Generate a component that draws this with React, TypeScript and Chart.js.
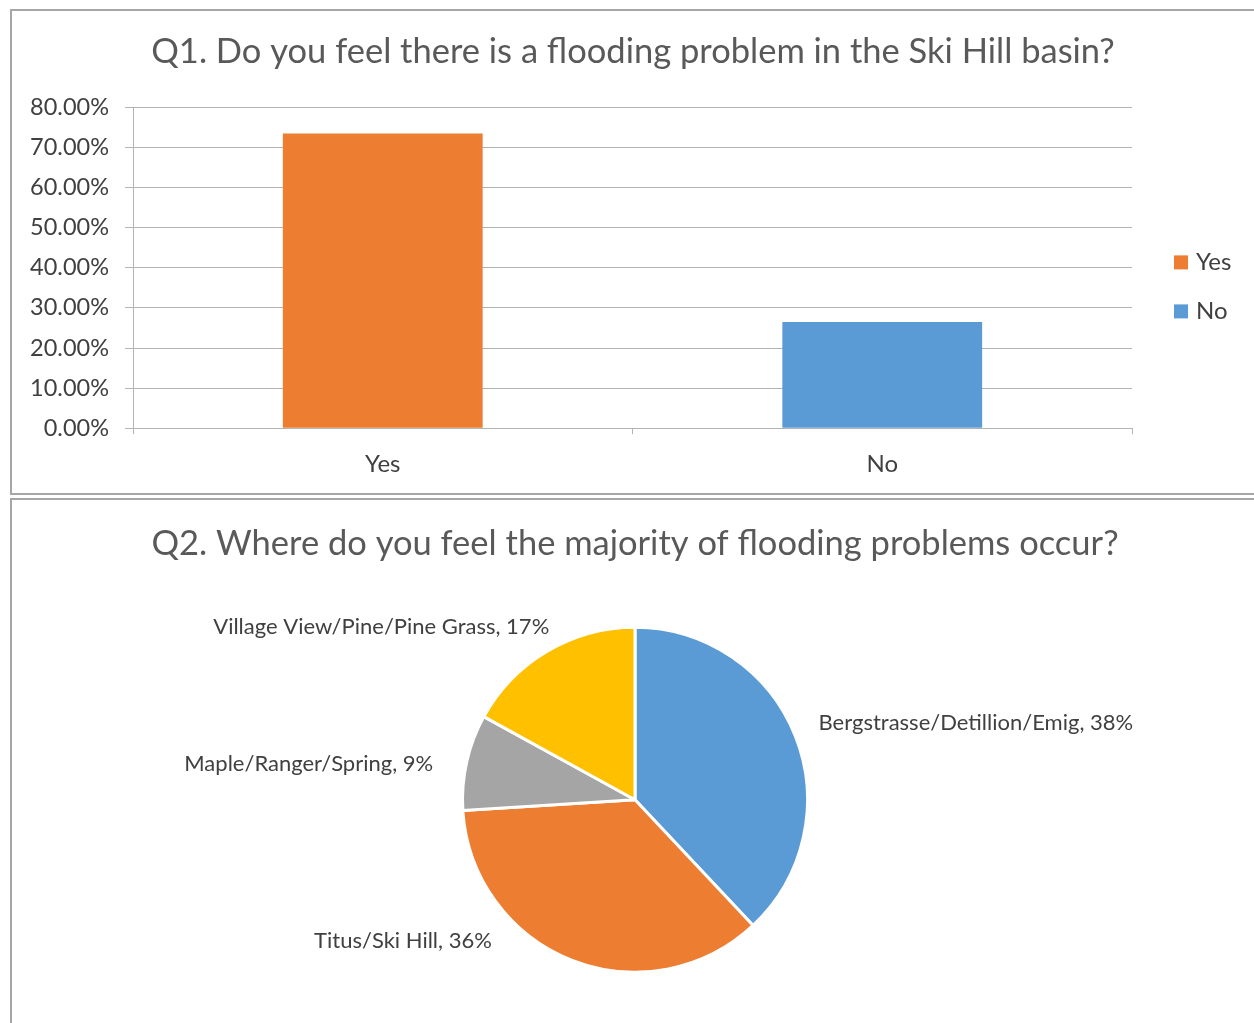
import React, { useEffect, useRef } from "react";
import { Chart, registerables } from "chart.js";

Chart.register(...registerables);

// ---------- Data ----------
const q1Title = "Q1. Do you feel there is a flooding problem in the Ski Hill basin?";
const q1Categories = ["Yes", "No"];
const q1Values = [73.5, 26.5];
const q1Colors = ["#ED7D31", "#5B9BD5"];
const q1AxisMax = 80;
const q1AxisStep = 10;

const q2Title = "Q2. Where do you feel the majority of flooding problems occur?";
const q2Categories = [
  "Bergstrasse/Detillion/Emig",
  "Titus/Ski Hill",
  "Maple/Ranger/Spring",
  "Village View/Pine/Pine Grass",
];
const q2Values = [38, 36, 9, 17];
const q2Colors = ["#5B9BD5", "#ED7D31", "#A5A5A5", "#FFC000"];

// label placement (multiples of pie radius from the centre), style only
const q2LabelPlacement = [
  { fx: 1.064, fy: -0.444, align: "left" },
  { fx: -0.83, fy: 0.819, align: "right" },
  { fx: -1.17, fy: -0.205, align: "right" },
  { fx: -0.497, fy: -1.0, align: "right" },
];

const FONT = "Lato, 'Open Sans', sans-serif";
const TEXT = "#404040";
const TITLE = "#595959";
const GRID = "#b3b3b3";

const barLegendPlugin = {
  id: "barLegend",
  afterDraw(chart: any) {
    const { ctx, chartArea } = chart;
    const ds = chart.data.datasets[0];
    ctx.save();
    ctx.font = `24px ${FONT}`;
    ctx.textBaseline = "middle";
    ctx.textAlign = "left";
    chart.data.labels.forEach((lab: string, i: number) => {
      const x = chartArea.right + 42;
      const y = chartArea.top + 155 + i * 49;
      ctx.fillStyle = ds.backgroundColor[i];
      ctx.fillRect(x, y - 7, 14, 14);
      ctx.fillStyle = TEXT;
      ctx.fillText(lab, x + 22, y);
    });
    ctx.restore();
  },
};

const pieLabelPlugin = {
  id: "pieLabels",
  afterDatasetsDraw(chart: any) {
    const { ctx } = chart;
    const meta = chart.getDatasetMeta(0);
    const values = chart.data.datasets[0].data;
    ctx.save();
    ctx.font = `22px ${FONT}`;
    ctx.fillStyle = TEXT;
    ctx.textBaseline = "middle";
    meta.data.forEach((arc: any, i: number) => {
      const p = q2LabelPlacement[i];
      const r = arc.outerRadius;
      ctx.textAlign = p.align;
      ctx.fillText(`${chart.data.labels[i]}, ${values[i]}%`, arc.x + p.fx * r, arc.y + p.fy * r);
    });
    ctx.restore();
  },
};

function BarChart() {
  const ref = useRef<HTMLCanvasElement>(null);
  useEffect(() => {
    const chart = new Chart(ref.current as HTMLCanvasElement, {
      type: "bar",
      data: {
        labels: q1Categories,
        datasets: [
          {
            label: "Q1",
            data: q1Values,
            backgroundColor: q1Colors,
            barPercentage: 0.4,
            categoryPercentage: 1,
          },
        ],
      },
      options: {
        responsive: false,
        animation: false,
        layout: { padding: { left: 2, right: 0, top: 0, bottom: -1 } },
        plugins: {
          legend: { display: false },
          tooltip: { enabled: false },
          title: {
            display: true,
            text: q1Title,
            color: TITLE,
            font: { family: FONT, size: 34.5, weight: "normal" },
            padding: { top: 22, bottom: 35 },
          },
        },
        scales: {
          x: {
            grid: { drawOnChartArea: false, drawTicks: true, tickLength: 6, color: GRID, offset: true },
            border: { display: true, color: GRID },
            ticks: { color: TEXT, font: { family: FONT, size: 24 }, padding: 16 },
          },
          y: {
            min: 0,
            max: q1AxisMax,
            ticks: {
              stepSize: q1AxisStep,
              color: TEXT,
              font: { family: FONT, size: 23.5 },
              padding: 16,
              callback: (v: any) => `${Number(v).toFixed(2)}%`,
            },
            grid: { color: GRID, tickLength: 8 },
            border: { display: true, color: GRID },
            afterFit: (scale: any) => {
              scale.width = 121;
            },
          },
          legendSpace: {
            type: "linear",
            position: "right",
            display: true,
            grid: { display: false, drawTicks: false },
            border: { display: false },
            ticks: { display: false },
            afterFit: (scale: any) => {
              scale.width = 122;
            },
          },
        },
      },
      plugins: [barLegendPlugin],
    } as any);
    return () => chart.destroy();
  }, []);
  return <canvas ref={ref} width={1244} height={485} style={{ position: "absolute", left: 10, top: 9 }} />;
}

function PieChart() {
  const ref = useRef<HTMLCanvasElement>(null);
  useEffect(() => {
    const chart = new Chart(ref.current as HTMLCanvasElement, {
      type: "pie",
      data: {
        labels: q2Categories,
        datasets: [
          {
            data: q2Values,
            backgroundColor: q2Colors,
            borderColor: "#ffffff",
            borderWidth: 3,
          },
        ],
      },
      options: {
        responsive: false,
        animation: false,
        radius: 172.5,
        layout: { padding: { left: 6, right: 0, top: 0, bottom: 8 } },
        plugins: {
          legend: { display: false },
          tooltip: { enabled: false },
          title: {
            display: true,
            text: q2Title,
            color: TITLE,
            font: { family: FONT, size: 34.5, weight: "normal" },
            padding: { top: 25, bottom: 20 },
          },
        },
      },
      plugins: [pieLabelPlugin],
    } as any);
    return () => chart.destroy();
  }, []);
  return <canvas ref={ref} width={1244} height={525} style={{ position: "absolute", left: 10, top: 498 }} />;
}

export default function App() {
  return (
    <div
      style={{
        position: "absolute",
        left: 0,
        top: 0,
        width: 1254,
        height: 1023,
        overflow: "hidden",
        background: "#ffffff",
      }}
    >
      <div
        style={{
          position: "absolute",
          left: 10,
          top: 9,
          width: 1270,
          height: 486,
          boxSizing: "border-box",
          border: "2px solid #a6a6a6",
        }}
      />
      <div
        style={{
          position: "absolute",
          left: 10,
          top: 498,
          width: 1270,
          height: 560,
          boxSizing: "border-box",
          border: "2px solid #a6a6a6",
        }}
      />
      <BarChart />
      <PieChart />
    </div>
  );
}
